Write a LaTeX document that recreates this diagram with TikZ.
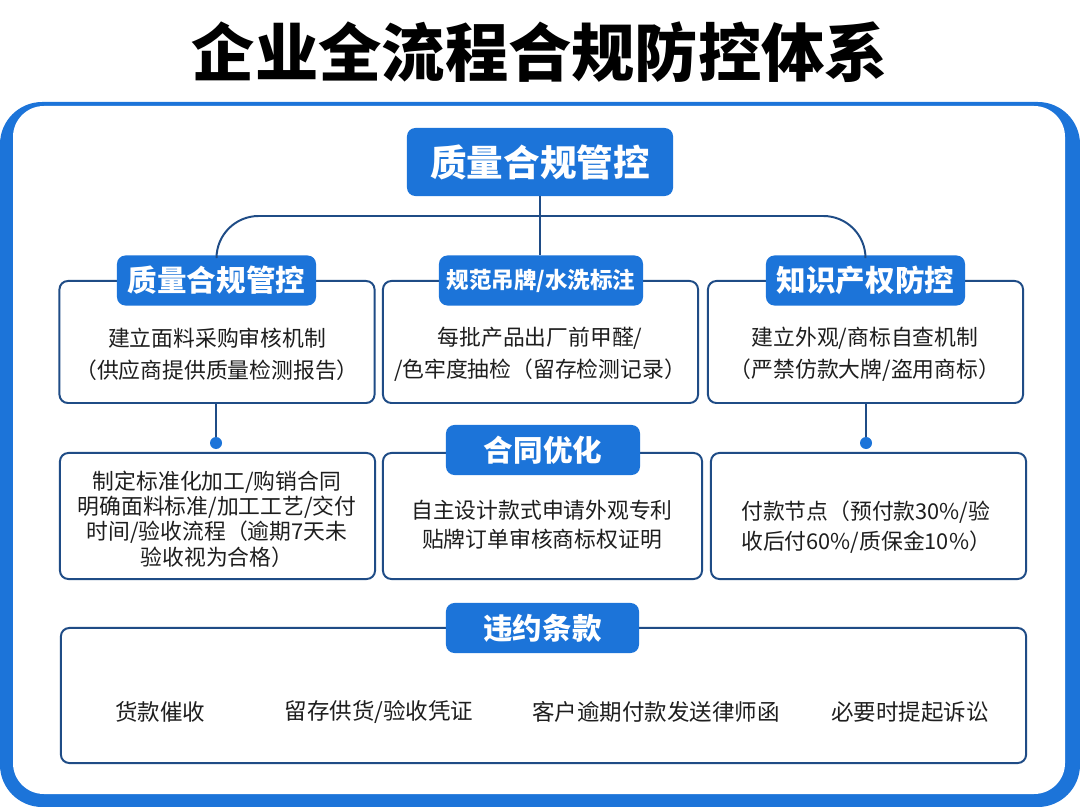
\documentclass[tikz,border=0pt]{standalone}
\usepackage{fontspec}
\setmainfont{Noto Sans CJK SC}
\usetikzlibrary{positioning, calc}
\definecolor{cBlue}{HTML}{1C74D9}
\definecolor{cNavy}{HTML}{1F4C86}
\definecolor{cInk}{HTML}{1E1E1E}

\begin{document}
\begin{tikzpicture}[x=0.025cm, y=-0.025cm,
  every node/.style={inner sep=0pt, text=cInk},
  panel/.style={draw=cNavy, line width=1.4pt, fill=white, rounded corners=6pt,
                minimum width=7.875cm},
  tag/.style={fill=cBlue, rounded corners=6pt, text=white,
              font=\bfseries\fontsize{21}{24}\selectfont, minimum height=1.25cm},
  body/.style={align=center, font=\fontsize{15.5}{22.7}\selectfont},
  item/.style={font=\fontsize{16}{19}\selectfont},
  link/.style={draw=cNavy, line width=1.4pt},
  dot/.style={circle, fill=cBlue, minimum size=0.3cm},
]
  \useasboundingbox (0,0) rectangle (1080,807);
  \fill[white] (0,0) rectangle (1080,807);

  % Frame
  \fill[cBlue, rounded corners=30pt] (0,102) rectangle (1080,807);
  \fill[white, rounded corners=22pt] (13,106) rectangle (1065,794);

  \node[font=\bfseries\fontsize{45}{50}\selectfont, text=black] (title) at (540,52) {企业全流程合规防控体系};

  % Row 1
  \node[panel, minimum height=3.05cm] (qcBox) at (217,342) {};
  \node[panel, minimum height=3.05cm] (tagBox) at (540.5,342) {};
  \node[panel, minimum height=3.05cm] (ipBox) at (865.5,342) {};

  % Row 2
  \node[panel, minimum height=3.15cm] (stdBox) at (217.5,516) {};
  \node[panel, minimum height=3.15cm, minimum width=7.975cm] (ctBox) at (542.5,516) {};
  \node[panel, minimum height=3.15cm] (payBox) at (868.5,516) {};

  % Row 3
  \node[panel, minimum height=3.375cm, minimum width=24.125cm] (penBox) at (543.5,695.5) {};

  % Tags
  \node[tag, minimum width=6.65cm, minimum height=1.7cm,
        font=\bfseries\fontsize{26}{30}\selectfont] (hq) at (540,162) {质量合规管控};
  \node[tag, minimum width=4.975cm] (lq) at (216.5,280.5) {质量合规管控};
  \node[tag, minimum width=5.1cm, font=\bfseries\fontsize{16}{19}\selectfont] (mq) at (541,280.5) {规范吊牌/水洗标注};
  \node[tag, minimum width=4.975cm] (rq) at (865.5,280.5) {知识产权防控};
  \node[tag, minimum width=4.85cm] (cq) at (543,450) {合同优化};
  \node[tag, minimum width=4.825cm] (vq) at (542.5,628) {违约条款};

  \draw[link, rounded corners=30pt] (lq.north) |- (540,216) -| (rq.north);
  \draw[link] (hq.south) -- (hq.south |- mq.north);

  \node[dot] (dotL) at (216,443) {};
  \node[dot] (dotR) at (866,443) {};
  \draw[link] (qcBox.south -| dotL) -- (dotL);
  \draw[link] (ipBox.south -| dotR) -- (dotR);

  % Texts
  \node[body] (qcText) at (217,354) {建立面料采购审核机制\\（供应商提供质量检测报告）};
  \node[body] (tagText) at (540,354) {每批产品出厂前甲醛/\\/色牢度抽检（留存检测记录）};
  \node[body] (ipText) at (865,354) {建立外观/商标自查机制\\（严禁仿款大牌/盗用商标）};
  \node[body, font=\fontsize{15.5}{18}\selectfont] (stdText) at (217,519)
    {制定标准化加工/购销合同\\明确面料标准/加工工艺/交付\\时间/验收流程（逾期7天未\\验收视为合格）};
  \node[body, font=\fontsize{15.5}{21}\selectfont] (ctText) at (542,525)
    {自主设计款式申请外观专利\\贴牌订单审核商标权证明};
  \node[body, align=left, anchor=west, font=\fontsize{15.5}{21}\selectfont] (payText) at (741,527)
    {付款节点（预付款30\%/验\\收后付60\%/质保金10\%）};

  \node[item] (i1) at (160,712) {货款催收};
  \node[item] (i2) at (379,712) {留存供货/验收凭证};
  \node[item] (i3) at (656,712) {客户逾期付款发送律师函};
  \node[item] (i4) at (910,712) {必要时提起诉讼};
\end{tikzpicture}
\end{document}
